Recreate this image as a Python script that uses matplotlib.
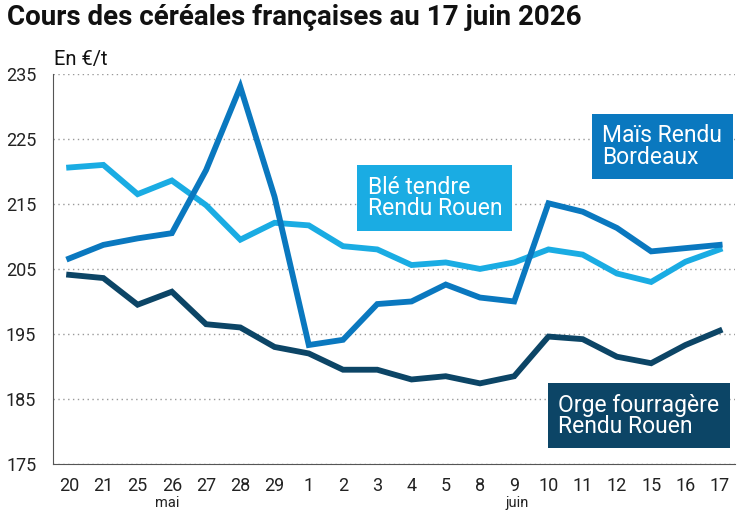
import matplotlib.pyplot as plt
from matplotlib.transforms import blended_transform_factory

plt.rcParams['font.family'] = ['Roboto', 'DejaVu Sans']

jours = ['20', '21', '25', '26', '27', '28', '29', '1', '2', '3', '4', '5',
         '8', '9', '10', '11', '12', '15', '16', '17']
ble = [220.6, 221.0, 216.5, 218.6, 214.8, 209.5, 212.1, 211.7, 208.5, 208.0,
       205.6, 206.0, 205.0, 206.0, 208.0, 207.2, 204.3, 203.0, 206.1, 208.0]
mais = [206.6, 208.7, 209.7, 210.5, 220.2, 233.0, 216.1, 193.3, 194.1, 199.6,
        200.0, 202.6, 200.6, 200.0, 215.1, 213.8, 211.3, 207.7, 208.2, 208.7]
orge = [204.1, 203.6, 199.5, 201.5, 196.5, 196.0, 193.0, 192.0, 189.5, 189.5,
        188.0, 188.5, 187.4, 188.5, 194.6, 194.2, 191.5, 190.5, 193.3, 195.5]
yticks = [175, 185, 195, 205, 215, 225, 235]

c_ble = '#1aace3'
c_mais = '#0a78bf'
c_orge = '#0c4566'

fig = plt.figure(figsize=(7.47, 5.13), dpi=100)
ax = fig.add_axes([0.071, 0.0955, 0.913, 0.7605])

x = range(len(jours))
ax.plot(x, ble, color=c_ble, lw=4.2, solid_joinstyle='miter', zorder=3)
ax.plot(x, mais, color=c_mais, lw=4.2, solid_joinstyle='miter', zorder=3)
ax.plot(x, orge, color=c_orge, lw=4.2, solid_joinstyle='miter', zorder=3)

ax.set_xlim(-0.47, 19.45)
ax.set_ylim(175, 235)
ax.set_yticks(yticks)
ax.set_xticks(list(x))
ax.set_xticklabels(jours)
ax.tick_params(length=0, labelsize=13, colors='#222222')
ax.tick_params(axis='x', pad=9)
ax.tick_params(axis='y', pad=12)
ax.grid(axis='y', linestyle=(0, (1, 2.5)), color='#999999', lw=1)
ax.set_axisbelow(True)
for s in ['top', 'right']:
    ax.spines[s].set_visible(False)
ax.spines['left'].set_color('#555555')
ax.spines['bottom'].set_color('#555555')

fig.text(0.010, 0.965, 'Cours des céréales françaises au 17 juin 2026',
         fontsize=20, fontweight='bold', color='#111111', va='center')
fig.text(0.072, 0.884, 'En €/t', fontsize=14.5, color='#111111', va='center')

# mois sous les jours
trans = blended_transform_factory(ax.transData, fig.transFigure)
ax.text(2.86, 0.006, 'mai', transform=trans, ha='center', va='bottom',
        fontsize=10.5, color='#222222', clip_on=False)
ax.text(13.1, 0.006, 'juin', transform=trans, ha='center', va='bottom',
        fontsize=10.5, color='#222222', clip_on=False)

# étiquettes des séries
box = dict(boxstyle='square,pad=0.45', lw=0)
ax.text(8.72, 215.9, 'Blé tendre\nRendu Rouen', color='white', fontsize=16.5,
        ha='left', va='center', linespacing=0.92,
        bbox={**box, 'fc': c_ble}, zorder=4)
ax.text(15.57, 223.8, 'Maïs Rendu\nBordeaux', color='white', fontsize=16.5,
        ha='left', va='center', linespacing=0.92,
        bbox={**box, 'fc': c_mais}, zorder=4)
ax.text(14.29, 182.4, 'Orge fourragère\nRendu Rouen', color='white', fontsize=16.5,
        ha='left', va='center', linespacing=0.92,
        bbox={**box, 'fc': c_orge}, zorder=4)

fig.savefig('out.png', dpi=100)
